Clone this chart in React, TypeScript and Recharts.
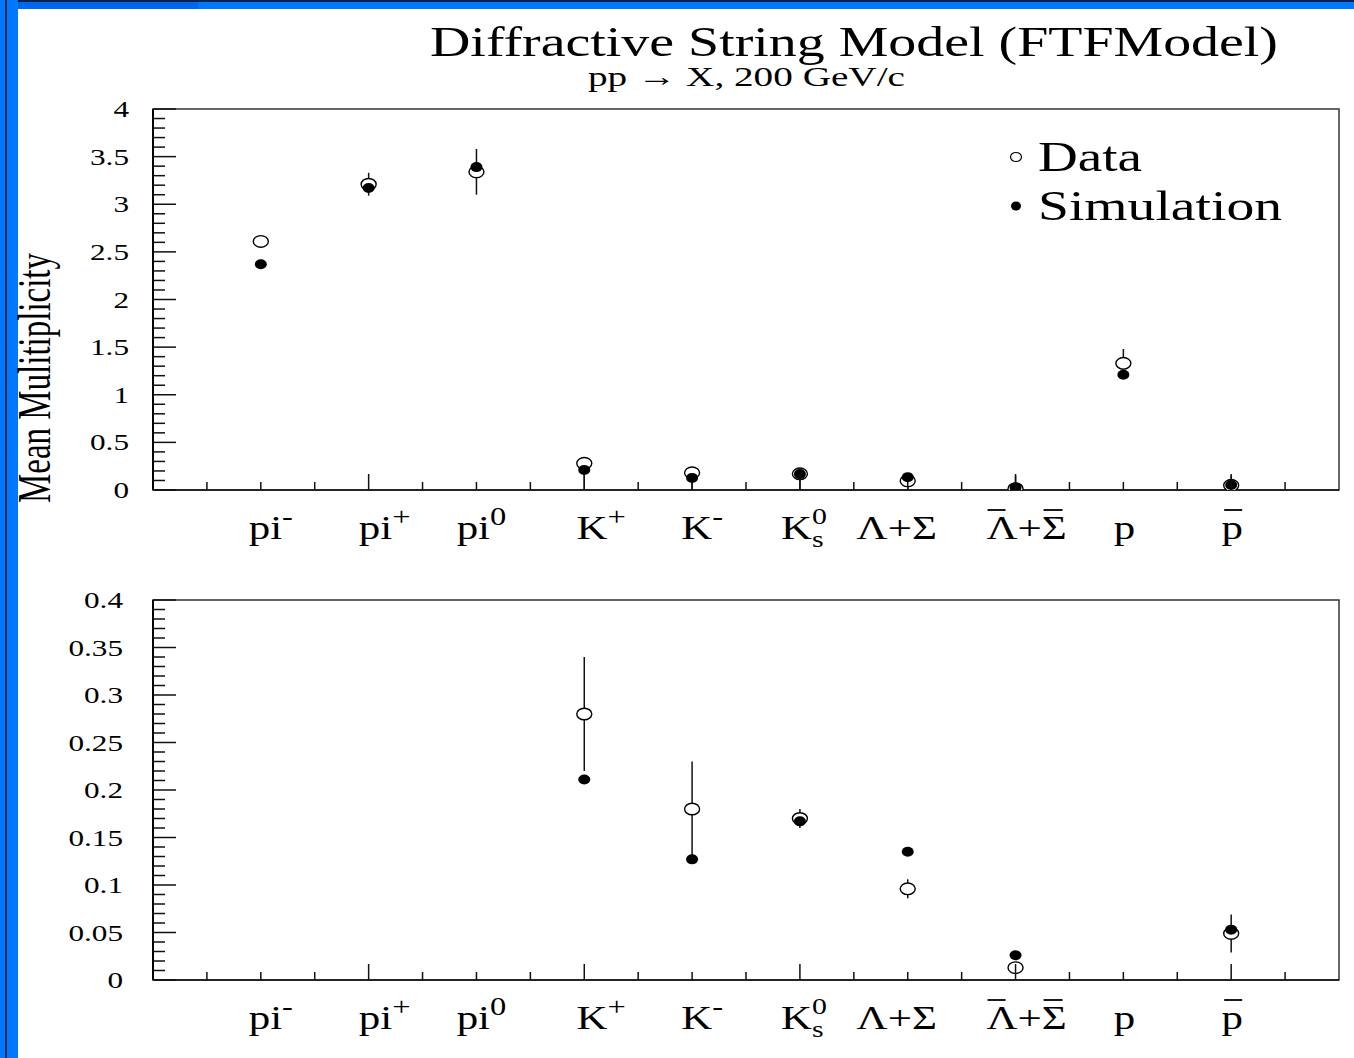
import React from 'react';
import {
  ComposedChart,
  Scatter,
  XAxis,
  YAxis,
  ErrorBar,
  ReferenceArea,
} from 'recharts';

// particle species along the x axis (one per integer bin, 1..10)
const particles = ['pi-', 'pi+', 'pi0', 'K+', 'K-', 'Ks0', 'L+S', 'aL+aS', 'p', 'pbar'];

// mean multiplicities, pp -> X at 200 GeV/c
const dataValues = [2.61, 3.21, 3.34, 0.28, 0.18, 0.17, 0.096, 0.013, 1.33, 0.049];
const dataErrors = [0.02, 0.12, 0.24, 0.06, 0.05, 0.01, 0.01, 0.006, 0.15, 0.02];
const simValues = [2.37, 3.17, 3.39, 0.211, 0.127, 0.167, 0.135, 0.026, 1.21, 0.053];

// vertical bars as they come out on the full-range panel
const upperBarLow = [null, 3.09, 3.1, 0, 0, 0, 0, 0.013, 1.18, 0.049];
const upperBarHigh = [null, 3.33, 3.58, 0.28, 0.18, 0.17, 0.096, 0.15, 1.48, 0.15];

// axis labels
const upperYLabels = [0, 0.5, 1, 1.5, 2, 2.5, 3, 3.5, 4];
const lowerYLabels = [0, 0.05, 0.1, 0.15, 0.2, 0.25, 0.3, 0.35, 0.4];

// horizontal nudge of each bin label (TLatex does not centre them exactly)
const labelShift = [10, 16, 5, 17, 10, 4, -11, 11, 1, 1];

const FONT = '"Liberation Serif", "Times New Roman", serif';
const SX = 1.3; // the old ROOT canvas has wide glyphs
const X_MAX = 11;

const steps = (max: number, step: number) => {
  const out: number[] = [];
  for (let i = 0; i * step <= max + 1e-9; i++) out.push(+(i * step).toFixed(4));
  return out;
};
const xTicks = steps(X_MAX, 0.5).filter((v) => v > 0 && v < X_MAX);

const near = (a: number, b: number) => Math.abs(a - b) < 1e-6;

const Sup = ({ children }: { children: React.ReactNode }) => (
  <tspan dy={-14} fontSize={25}>
    {children}
  </tspan>
);

const labelBody = (name: string) => {
  switch (name) {
    case 'pi-':
      return <>pi<Sup>-</Sup></>;
    case 'pi+':
      return <>pi<Sup>+</Sup></>;
    case 'pi0':
      return <>pi<Sup>0</Sup></>;
    case 'K+':
      return <>K<Sup>+</Sup></>;
    case 'K-':
      return <>K<Sup>-</Sup></>;
    case 'Ks0':
      return (
        <>
          K
          <tspan dy={8} fontSize={23}>s</tspan>
          <tspan dx={-9} dy={-23} fontSize={23}>0</tspan>
        </>
      );
    case 'L+S':
      return <>Λ+Σ</>;
    case 'aL+aS':
      return <>Λ+Σ</>;
    case 'pbar':
      return <>p</>;
    default:
      return <>{name}</>;
  }
};

// #bar strokes, as [from, to] offsets from the bin centre
const overbars: Record<string, [number, number][]> = {
  'aL+aS': [
    [-28, -10],
    [28, 47],
  ],
  pbar: [[-7, 11]],
};

const XTick = ({ x, y, payload }: any) => {
  const v = payload.value as number;
  const len = near(v % 2, 0) ? 16 : 8;
  const idx = Math.round(v) - 1;
  const isBin = near(v, Math.round(v)) && idx >= 0 && idx < particles.length;
  const name = isBin ? particles[idx] : '';
  return (
    <g>
      <line x1={x} x2={x} y1={y} y2={y - len} stroke="#111" strokeWidth={1.5} />
      {isBin && (
        <text
          transform={`translate(${x + labelShift[idx]},${y + 49}) scale(${SX},1)`}
          textAnchor="middle"
          fontFamily={FONT}
          fontSize={33}
          fill="#000"
        >
          {labelBody(name)}
        </text>
      )}
      {isBin &&
        (overbars[name] || []).map(([a, b], k) => (
          <line key={k} x1={x + a} x2={x + b} y1={y + 20} y2={y + 20} stroke="#000" strokeWidth={1.8} />
        ))}
    </g>
  );
};

const makeYTick = (labels: number[], labelRight: number) => ({ x, y, payload }: any) => {
  const v = payload.value as number;
  const isMajor = labels.some((l) => near(l, v));
  return (
    <g>
      <line x1={x} x2={x + (isMajor ? 23 : 12)} y1={y} y2={y} stroke="#111" strokeWidth={1.5} />
      {isMajor && (
        <text
          transform={`translate(${x - labelRight},${y + 8}) scale(${SX},1)`}
          textAnchor="end"
          fontFamily={FONT}
          fontSize={24}
          fill="#000"
        >
          {String(+v.toFixed(2))}
        </text>
      )}
    </g>
  );
};

const OpenMarker = (p: any) => (
  <ellipse cx={p.cx} cy={p.cy} rx={7.5} ry={5.8} fill="#fff" stroke="#000" strokeWidth={1.4} />
);
const FilledMarker = (p: any) => <ellipse cx={p.cx} cy={p.cy} rx={6} ry={5} fill="#000" />;
const NoMarker = () => <g />;

type Row = { x: number; y: number; err?: [number, number] };

interface PanelProps {
  yMax: number;
  yLabels: number[];
  minorStep: number;
  labelRight: number;
  bars: Row[];
  data: Row[];
  sim: Row[];
  height: number;
  top: number;
}

const Panel = ({ yMax, yLabels, minorStep, labelRight, bars, data, sim, height, top }: PanelProps) => (
  <ComposedChart width={1354} height={height} margin={{ top, right: 15, bottom: 0, left: 93 }}>
    <XAxis
      type="number"
      dataKey="x"
      domain={[0, X_MAX]}
      ticks={xTicks}
      interval={0}
      tick={<XTick />}
      tickSize={0}
      tickMargin={0}
      tickLine={false}
      axisLine={{ stroke: '#111', strokeWidth: 1.5 }}
      height={70}
      allowDataOverflow
    />
    <YAxis
      type="number"
      dataKey="y"
      domain={[0, yMax]}
      ticks={steps(yMax, minorStep)}
      interval={0}
      tick={makeYTick(yLabels, labelRight)}
      tickSize={0}
      tickMargin={0}
      tickLine={false}
      axisLine={{ stroke: '#000', strokeWidth: 2 }}
      width={60}
      allowDataOverflow
    />
    <ReferenceArea
      x1={0}
      x2={X_MAX}
      y1={0}
      y2={yMax}
      fill="none"
      fillOpacity={0}
      stroke="#333"
      strokeWidth={1.5}
      ifOverflow="extendDomain"
    />
    <Scatter data={bars} shape={NoMarker} isAnimationActive={false}>
      <ErrorBar dataKey="err" direction="y" width={0} stroke="#111" strokeWidth={1.5} isAnimationActive={false} />
    </Scatter>
    <Scatter data={data} shape={OpenMarker} isAnimationActive={false} />
    <Scatter data={sim} shape={FilledMarker} isAnimationActive={false} />
  </ComposedChart>
);

// upper panel: full range
const upperBars: Row[] = particles
  .map((_, i) => ({ i, lo: upperBarLow[i], hi: upperBarHigh[i] }))
  .filter((r) => r.lo !== null && r.hi !== null)
  .map(({ i, lo, hi }) => ({
    x: i + 1,
    y: dataValues[i],
    err: [dataValues[i] - (lo as number), (hi as number) - dataValues[i]] as [number, number],
  }));
const upperData: Row[] = dataValues.map((v, i) => ({ x: i + 1, y: v }));
const upperSim: Row[] = simValues.map((v, i) => ({ x: i + 1, y: v }));

// lower panel: zoom on the strange-particle range
const LOWER_MAX = 0.4;
const lowerBars: Row[] = dataValues
  .map((v, i) => ({ x: i + 1, y: v, err: [dataErrors[i], dataErrors[i]] as [number, number] }))
  .filter((r) => r.y <= LOWER_MAX);
const lowerData: Row[] = upperData.filter((r) => r.y <= LOWER_MAX);
const lowerSim: Row[] = upperSim.filter((r) => r.y <= LOWER_MAX);

export default function App() {
  return (
    <div
      style={{
        position: 'absolute',
        left: 0,
        top: 0,
        width: 1354,
        height: 1058,
        background: '#fff',
        overflow: 'hidden',
      }}
    >
      {/* slide frame */}
      <div style={{ position: 'absolute', left: 0, top: 0, width: 1354, height: 9, background: '#0077ff' }} />
      <div style={{ position: 'absolute', left: 0, top: 0, width: 198, height: 9, background: '#0068ee' }} />
      <div style={{ position: 'absolute', left: 0, top: 0, width: 1354, height: 2, background: '#0b1f4a' }} />
      <div style={{ position: 'absolute', left: 0, top: 0, width: 18, height: 1058, background: '#0077ff' }} />
      <div style={{ position: 'absolute', left: 5, top: 0, width: 2, height: 1058, background: '#14284f' }} />

      <div style={{ position: 'absolute', left: 0, top: 0 }}>
        <Panel
          yMax={4}
          yLabels={upperYLabels}
          minorStep={0.1}
          labelRight={24}
          bars={upperBars}
          data={upperData}
          sim={upperSim}
          height={560}
          top={109}
        />
      </div>
      <div style={{ position: 'absolute', left: 0, top: 560 }}>
        <Panel
          yMax={LOWER_MAX}
          yLabels={lowerYLabels}
          minorStep={0.01}
          labelRight={30}
          bars={lowerBars}
          data={lowerData}
          sim={lowerSim}
          height={490}
          top={40}
        />
      </div>

      <svg
        width={1354}
        height={1058}
        style={{ position: 'absolute', left: 0, top: 0, pointerEvents: 'none' }}
        fontFamily={FONT}
      >
        <text x={430} y={56} fontSize={42} textLength={848} lengthAdjust="spacingAndGlyphs">
          Diffractive String Model (FTFModel)
        </text>
        <text x={588} y={86} fontSize={28} textLength={317} lengthAdjust="spacingAndGlyphs">
          pp → X, 200 GeV/c
        </text>
        <text
          transform="translate(50,378) rotate(-90)"
          textAnchor="middle"
          fontSize={46}
          textLength={250}
          lengthAdjust="spacingAndGlyphs"
        >
          Mean Mulitiplicity
        </text>

        <ellipse cx={1016} cy={157} rx={5.5} ry={4.5} fill="#fff" stroke="#000" strokeWidth={1.2} />
        <text x={1038} y={171} fontSize={42} textLength={104} lengthAdjust="spacingAndGlyphs">
          Data
        </text>
        <ellipse cx={1016} cy={206} rx={5} ry={4.5} fill="#000" />
        <text x={1038} y={220} fontSize={42} textLength={244} lengthAdjust="spacingAndGlyphs">
          Simulation
        </text>
      </svg>
    </div>
  );
}
